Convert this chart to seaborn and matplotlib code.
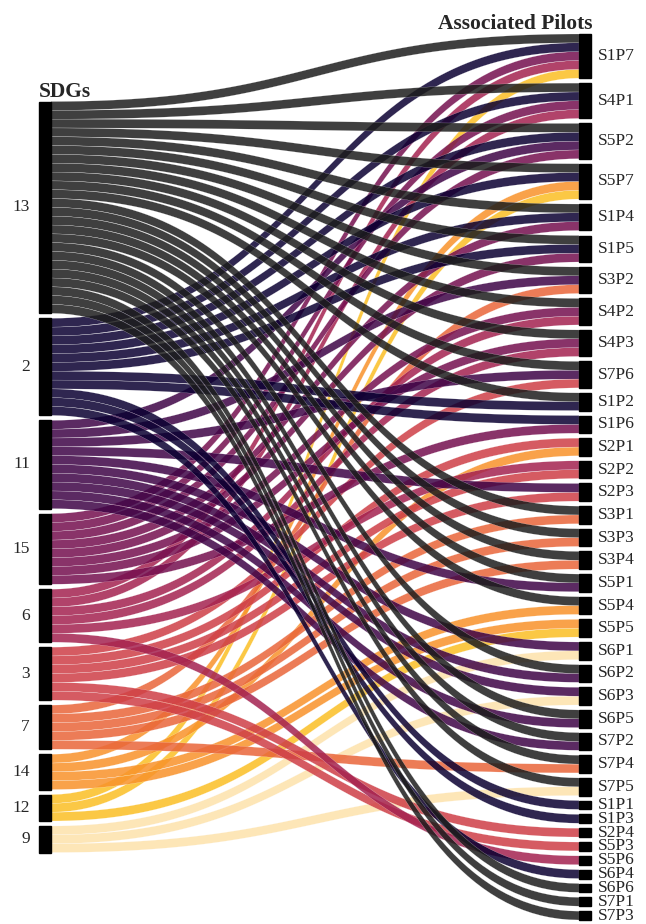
import numpy as np
import pandas as pd
import matplotlib.pyplot as plt
import seaborn as sns
from matplotlib.patches import Polygon, Rectangle

# SDG nodes (left) in display order and their colours
sdgs = ["13", "2", "11", "15", "6", "3", "7", "14", "12", "9"]
sdg_colors = ["#3f3f3f", "#2f2450", "#5b2a62", "#8a3369", "#b2436a",
              "#d55b63", "#ec7c57", "#f9a24a", "#fcc945", "#fde6b8"]

# pilot nodes (right) in display order
pilots = ["S1P7", "S4P1", "S5P2", "S5P7", "S1P4", "S1P5", "S3P2", "S4P2",
          "S4P3", "S7P6", "S1P2", "S1P6", "S2P1", "S2P2", "S2P3", "S3P1",
          "S3P3", "S3P4", "S5P1", "S5P4", "S5P5", "S6P1", "S6P2", "S6P3",
          "S6P5", "S7P2", "S7P4", "S7P5", "S1P1", "S1P3", "S2P4", "S5P3",
          "S5P6", "S6P4", "S6P6", "S7P1", "S7P3"]

# SDGs linked to each pilot
pilot_sdgs = [
    ["13", "2", "15", "6", "12"], ["13", "2", "15", "6"], ["13", "2", "11", "15"],
    ["13", "2", "14", "12"], ["13", "2", "15"], ["13", "2", "15"],
    ["13", "11", "7"], ["13", "15", "6"], ["13", "15", "6"], ["13", "11", "3"],
    ["13", "2"], ["2", "15"], ["3", "14"], ["6", "3"], ["11", "3"],
    ["13", "7"], ["13", "7"], ["13", "7"], ["13", "11"], ["13", "14"],
    ["14", "12"], ["11", "9"], ["13", "11"], ["11", "9"], ["13", "11"],
    ["13", "11"], ["13", "7"], ["13", "9"], ["2"], ["2"], ["3"], ["3"],
    ["6"], ["2"], ["13"], ["13"], ["13"],
]

links = pd.DataFrame([(s, p) for p, ss in zip(pilots, pilot_sdgs) for s in ss],
                     columns=["sdg", "pilot"])
links["si"] = links["sdg"].map({s: i for i, s in enumerate(sdgs)})
links["pi"] = links["pilot"].map({p: i for i, p in enumerate(pilots)})

UNIT, GAP, CENTER = 8.825, 5.0, 477
XL0, XL1, XR0, XR1 = 39, 51, 579, 591
ALPHA = 0.85


def node_tops(counts):
    total = counts.sum() * UNIT + (len(counts) - 1) * GAP
    tops = CENTER - total / 2 + np.concatenate([[0], np.cumsum(counts[:-1] * UNIT + GAP)])
    return tops


def base_color(hexc):
    # colour that gives the wanted shade once blended on white
    rgb = np.array(sns.color_palette([hexc])[0])
    return tuple(np.clip((rgb - (1 - ALPHA)) / ALPHA, 0, 1))


left_counts = links.groupby("si").size().reindex(range(len(sdgs))).to_numpy()
right_counts = links.groupby("pi").size().reindex(range(len(pilots))).to_numpy()
left_tops = node_tops(left_counts)
right_tops = node_tops(right_counts)

# band offsets inside each node
links = links.sort_values(["si", "pi"])
links["y_left"] = left_tops[links["si"]] + links.groupby("si").cumcount() * UNIT
links = links.sort_values(["pi", "si"])
links["y_right"] = right_tops[links["pi"]] + links.groupby("pi").cumcount() * UNIT

sns.set_theme(style="white")
plt.rcParams["font.family"] = ["Liberation Serif", "DejaVu Serif"]

fig = plt.figure(figsize=(6.46, 9.24), dpi=100)
ax = fig.add_axes([0, 0, 1, 1])
ax.set_xlim(0, 646)
ax.set_ylim(924, 0)
ax.axis("off")

t = np.linspace(0, 1, 80)
wa = (1 - t) ** 3 + 3 * (1 - t) ** 2 * t
wb = 3 * (1 - t) * t ** 2 + t ** 3
xm = (XL1 + XR0) / 2
xs = (1 - t) ** 3 * XL1 + 3 * (1 - t) ** 2 * t * xm + 3 * (1 - t) * t ** 2 * xm + t ** 3 * XR0

for _, r in links.sort_values(["si", "pi"], ascending=[False, True]).iterrows():
    top = r.y_left * wa + r.y_right * wb
    bot = top + UNIT
    pts = np.vstack([np.column_stack([xs, top]), np.column_stack([xs[::-1], bot[::-1]])])
    ax.add_patch(Polygon(pts, closed=True, facecolor=base_color(sdg_colors[r.si]),
                         edgecolor="white", linewidth=0.15, alpha=ALPHA))

for i, s in enumerate(sdgs):
    h = left_counts[i] * UNIT
    ax.add_patch(Rectangle((XL0, left_tops[i]), XL1 - XL0, h, color="black"))
    ax.text(XL0 - 9, left_tops[i] + h / 2, s, ha="right", va="center", fontsize=12.5)

for i, p in enumerate(pilots):
    h = right_counts[i] * UNIT
    ax.add_patch(Rectangle((XR0, right_tops[i]), XR1 - XR0, h, color="black"))
    ax.text(XR1 + 7, right_tops[i] + h / 2, p, ha="left", va="center", fontsize=12.5)

ax.text(XL0, left_tops[0] - 4.5, "SDGs", ha="left", va="baseline",
        fontsize=15.5, fontweight="bold")
ax.text(XR1 + 1, right_tops[0] - 5, "Associated Pilots", ha="right", va="baseline",
        fontsize=15.5, fontweight="bold")

fig.savefig("out.png", dpi=100)
